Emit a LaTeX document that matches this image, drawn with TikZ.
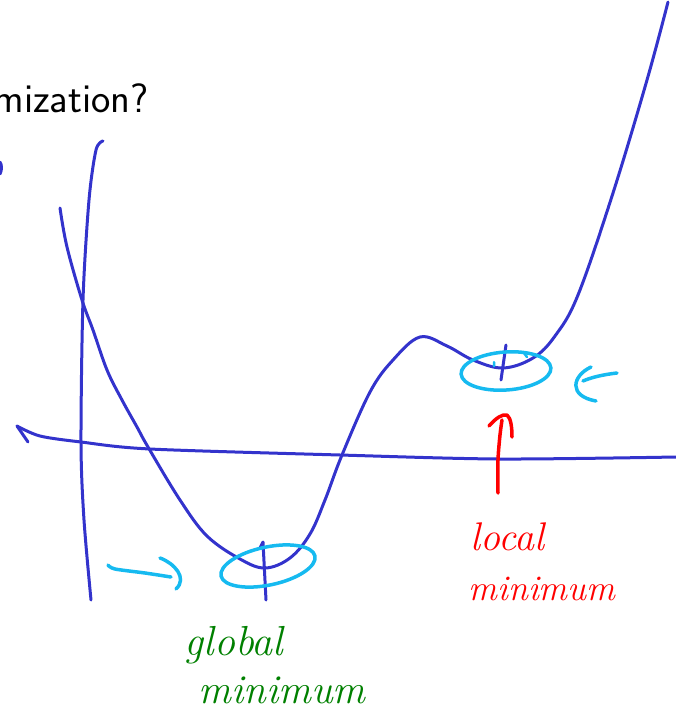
\documentclass[tikz,border=0pt]{standalone}
\usepackage{fontspec}
\definecolor{ink}{RGB}{51,51,204}
\definecolor{hilite}{RGB}{22,186,240}
\definecolor{gmin}{RGB}{0,128,0}
\definecolor{lmin}{RGB}{255,0,0}
\begin{document}
\begin{tikzpicture}[x=1pt, y=-1pt, line join=round, line cap=round,
	axispen/.style={ink, line width=3pt},
	cyanpen/.style={hilite, line width=3.5pt},
	redpen/.style={lmin, line width=3.5pt},
	handtext/.style={font=\itshape\fontsize{#1}{#1}\selectfont, inner sep=0, anchor=base}]
	\useasboundingbox (0,0) rectangle (676,713);
	\clip (0,0) rectangle (676,713);
	\path
	(268,566) coordinate (G)
	(506,371) coordinate (L);
	% title
	\node[anchor=base east, font=\sffamily\fontsize{41}{50}\selectfont, inner sep=0] (title) at (149,112) {mization?};
	\draw[axispen] (0,162) .. controls (2,165) and (2,170) .. (0,174);
	% axes
	\draw[axispen] plot[smooth] coordinates {(103,141) (96,150) (89,200) (83,300) (81,443) (84,520) (91,600)};
	\draw[axispen] (28,442) -- (17,426);
	\draw[axispen] plot[smooth] coordinates {(17,426) (40,436) (81,442) (150,449) (340,455) (500,459) (676,457)};
	% function
	\draw[axispen] plot[smooth, tension=0.6] coordinates {(60,208) (67,247) (82,300) (93,330) (107,370) (122,400) (137,427) (148,447)
		(180,500) (207,536) (240,559) (265,568) (290,558) (310,534) (325,500) (342,455) (370,392)
		(393,360) (420,337) (447,346) (473,360) (503,368) (533,358) (555,336) (578,295) (613,193) (647,80) (668,2)};
	\draw[axispen] (260,548) -- (263,542) -- (266,600);
	\draw[axispen] (506,345) -- (501,380);
	% Khoanh vùng cực tiểu
	\foreach \p/\a/\r in {G/12/48, L/4/45}
	\draw[cyanpen, rotate around={\a:(\p)}] (\p) ellipse [x radius=\r, y radius=19];
	\draw[cyanpen, line width=2.5pt] (494,362) -- (494,366) (524,353) -- (527,357);
	\draw[cyanpen] plot[smooth] coordinates {(108,565) (115,569) (145,573) (171,577)};
	\draw[cyanpen] (160,558) .. controls (174,563) and (188,578) .. (176,589);
	\draw[cyanpen] (617,373) .. controls (600,375) and (590,378) .. (583,381);
	\draw[cyanpen] (591,367) .. controls (572,376) and (568,396) .. (596,401);
	\draw[redpen] plot[smooth] coordinates {(498,493) (498,460) (500,435) (502,420)};
	\draw[redpen] (489,426) .. controls (496,418) and (502,414) .. (507,415) .. controls (511,418) and (512,428) .. (512,437);
	% labels
	\node[handtext=40, lmin] (loc) at (507,550) {local};
	\node[handtext=36, lmin] (locmin) at (542,600) {minimum};
	\node[handtext=42, gmin] (glob) at (234,655) {global};
	\node[handtext=41, gmin] (globmin) at (282,703) {minimum};
\end{tikzpicture}
\end{document}
